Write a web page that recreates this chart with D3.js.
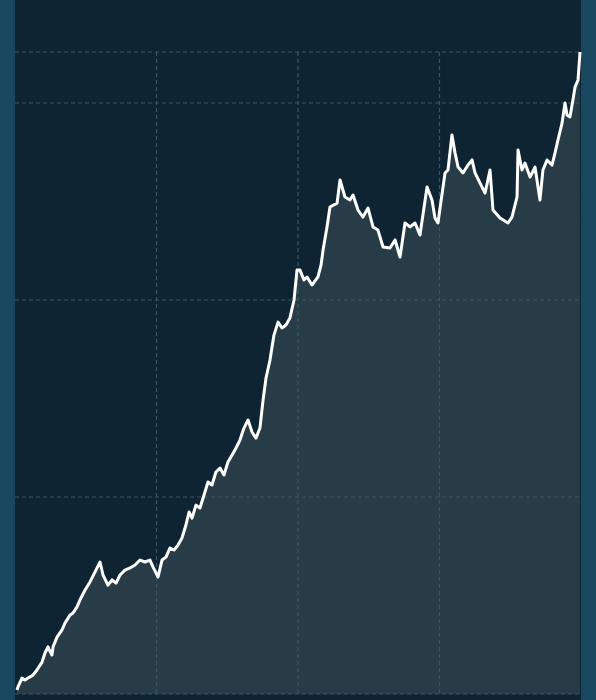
<!DOCTYPE html>
<html>
<head>
<meta charset="utf-8">
<script src="https://cdn.jsdelivr.net/npm/d3@7"></script>
<style>
  html, body { margin: 0; padding: 0; background: #1a4760; }
  svg { display: block; }
</style>
</head>
<body>
<svg id="chart" width="596" height="700"></svg>
<script>
// day index along the x axis (0..400)
const days = [1.4, 2.1, 4.9, 7.1, 9.2, 12.7, 15.5, 19.1, 21.2, 23.3, 26.1, 26.9, 29.7, 33.2, 35.3, 38.9, 41.0, 43.8, 45.9, 49.5,
  53.0, 56.5, 60.1, 62.2, 65.7, 68.6, 71.4, 74.2, 77.7, 81.3, 84.8, 88.3, 91.9, 95.4, 97.5, 101.1, 103.9, 106.7, 109.5, 112.4,
  115.2, 118.0, 120.8, 123.0, 125.1, 127.9, 130.7, 133.6, 136.4, 139.2, 142.0, 144.9, 147.7, 150.5, 153.4, 156.2, 159.0, 161.8, 164.7, 167.5,
  170.3, 173.1, 175.3, 177.4, 180.2, 183.0, 185.9, 188.7, 191.5, 194.3, 197.2, 199.3, 201.4, 204.2, 206.4, 209.9, 214.1, 216.3, 217.7, 220.5,
  222.6, 227.6, 229.7, 233.2, 236.7, 238.9, 242.4, 245.9, 249.5, 253.0, 256.5, 260.1, 265.0, 268.6, 272.1, 275.6, 279.2, 282.7, 286.2, 291.2,
  294.7, 296.8, 298.9, 303.9, 306.0, 308.8, 311.0, 313.1, 316.6, 320.1, 323.0, 325.1, 330.0, 332.2, 335.7, 337.8, 342.8, 348.4, 351.2, 354.8,
  355.5, 358.3, 360.4, 364.0, 367.5, 371.0, 373.1, 376.0, 379.5, 381.6, 383.7, 386.6, 388.7, 390.1, 392.2, 394.3, 395.8, 397.9, 399.3];

const values = [2.0, 3.6, 8.1, 7.1, 8.1, 9.6, 12.2, 16.2, 20.8, 23.9, 19.8, 23.9, 28.9, 32.5, 36.0, 40.1, 41.1, 44.2, 47.7, 52.8,
  56.9, 61.9, 67.0, 60.4, 55.3, 57.9, 56.3, 60.4, 62.9, 64.0, 65.5, 68.0, 67.0, 68.0, 64.5, 59.4, 68.0, 69.5, 74.1, 73.1,
  75.6, 79.2, 85.8, 92.4, 89.3, 95.9, 94.4, 101.0, 107.6, 106.1, 112.7, 114.7, 111.2, 117.8, 121.3, 124.9, 128.9, 135.0, 139.1, 133.0,
  129.9, 135.0, 149.2, 160.4, 169.5, 182.2, 188.8, 185.8, 187.3, 190.9, 200.0, 215.2, 215.2, 210.2, 211.7, 207.6, 211.7, 217.8, 225.4, 237.1,
  247.2, 249.2, 260.9, 252.3, 250.8, 253.3, 245.7, 242.1, 246.7, 237.1, 235.5, 226.9, 226.4, 230.5, 221.8, 239.1, 237.1, 239.1, 233.0, 257.4,
  250.8, 241.6, 239.1, 264.5, 266.0, 283.8, 274.6, 267.5, 264.5, 268.5, 271.1, 264.5, 257.4, 254.3, 266.0, 245.7, 241.6, 239.1, 242.1, 252.3,
  276.1, 266.0, 269.5, 262.4, 267.5, 250.8, 266.0, 271.1, 268.5, 274.6, 281.2, 289.8, 300.0, 293.9, 292.9, 301.5, 308.1, 311.7, 325.9];

const xTicks = [0, 100, 200, 300, 400];
const yTicks = [0, 100, 200, 300];

const data = days.map((d, i) => ({ x: d, y: values[i] }));

const svg = d3.select("#chart");
const width = +svg.attr("width"), height = +svg.attr("height");
const margin = { top: 52, right: 15, bottom: 6, left: 15 };
const plotWidth = width - margin.left - margin.right;
const plotHeight = height - margin.top - margin.bottom;

// dark panel between the two side strips
svg.append("rect")
  .attr("x", margin.left)
  .attr("y", 0)
  .attr("width", plotWidth)
  .attr("height", height)
  .attr("fill", "#0f2433");

const g = svg.append("g").attr("transform", `translate(${margin.left},${margin.top})`);

const x = d3.scaleLinear().domain([0, 400]).range([0, plotWidth]);
const y = d3.scaleLinear().domain([0, d3.max(values)]).range([plotHeight, 0]);

// area under the line
g.append("path")
  .datum(data)
  .attr("fill", "#283c47")
  .attr("d", d3.area().x(d => x(d.x)).y0(plotHeight).y1(d => y(d.y)));

// grid
const grid = g.append("g").attr("stroke", "#3a5566").attr("stroke-width", 1.2).attr("stroke-dasharray", "4,3");
grid.selectAll(".gx")
  .data(xTicks.slice(1, -1))
  .join("line")
  .attr("x1", d => x(d)).attr("x2", d => x(d))
  .attr("y1", 0).attr("y2", plotHeight);
grid.selectAll(".gy")
  .data(yTicks.concat([d3.max(values)]))
  .join("line")
  .attr("x1", 0).attr("x2", plotWidth)
  .attr("y1", d => y(d)).attr("y2", d => y(d));

// line
g.append("path")
  .datum(data)
  .attr("fill", "none")
  .attr("stroke", "#ffffff")
  .attr("stroke-width", 3)
  .attr("stroke-linejoin", "round")
  .attr("d", d3.line().x(d => x(d.x)).y(d => y(d.y)));
</script>
</body>
</html>
